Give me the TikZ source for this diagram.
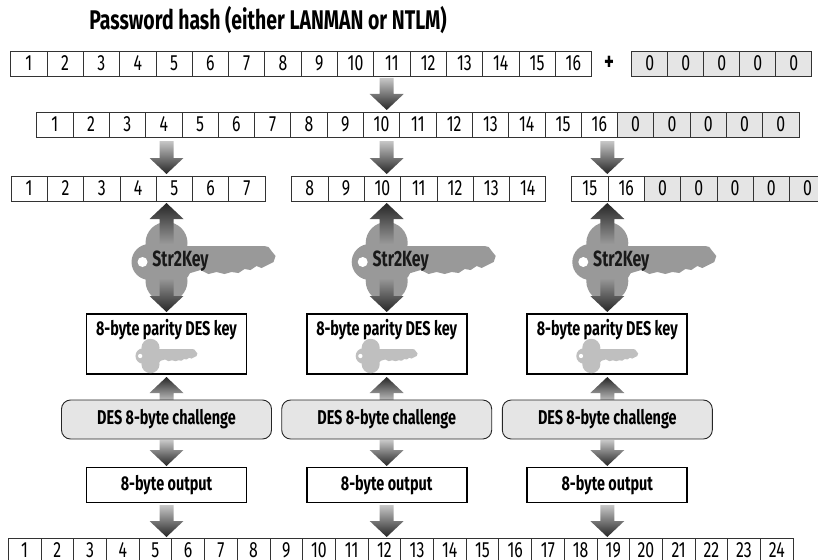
\documentclass[tikz,border=0pt]{standalone}
\usepackage{fontspec}
\setmainfont{Fira Sans}[FakeStretch=0.72]
\newcommand\keyshape[4]{%
 \begin{scope}[shift={(#1,#2)},scale=#3]
  \fill[#4] (0,-19) circle (21) (0,19) circle (21) (-17,0) circle (18) (0,0) circle (26);
  \fill[#4] (14,-16) -- (98,-16) -- (102,-15) -- (105,-11) -- (109,-6) -- (107,0) -- (101,3) -- (95,6) -- (90,4) -- (84,8) -- (78,7) -- (72,11) -- (65,10) -- (58,12) -- (50,10) -- (42,12) -- (34,8) -- (14,14) -- cycle;
  \fill[white] (-24,0) circle (5);
 \end{scope}}
\newcommand\blkarr[4]{%
 \pgfmathsetmacro\hb{#3-16*sign(#3-#2)}%
 \shade[#4] ({#1-7},#2) -- ({#1-7},\hb) -- ({#1-17},\hb) -- (#1,#3) -- ({#1+17},\hb) -- ({#1+7},\hb) -- ({#1+7},#2) -- cycle;}
\begin{document}
\begin{tikzpicture}[x=1pt,y=-1pt,
  cell/.style={draw=black!80, line width=0.8pt, minimum width=36.3pt, minimum height=25pt, inner sep=0pt, font=\fontsize{22}{22}\selectfont},
  zcell/.style={cell, fill=black!10},
  bcell/.style={cell, minimum width=32.7pt},
  thickbox/.style={draw=black, line width=1.8pt, fill=white, inner sep=0pt, minimum width=160pt},
  chal/.style={draw=black!85, line width=0.9pt, fill=black!10, rounded corners=9pt, minimum width=210pt, minimum height=39pt, font=\fontsize{20}{20}\selectfont\bfseries},
  lbl/.style={font=\fontsize{20}{20}\selectfont\bfseries},
  dn/.style={top color=black!22, bottom color=black!85},
  up/.style={top color=black!85, bottom color=black!22},
  kup/.style={top color=black!85, bottom color=black!40},
  kdn/.style={top color=black!40, bottom color=black!85}]
\useasboundingbox (0,0) rectangle (818,559);
\clip (0,0) rectangle (818,559);
% title
\node[font=\fontsize{27}{27}\selectfont\bfseries] (title) at (268,20) {Password hash (either LANMAN or NTLM)};
% row 1
\foreach \i in {1,...,16} \node[cell] (ra\i) at ({10.7+(\i-0.5)*36.3},63.5) {\i};
\node[font=\fontsize{26}{26}\selectfont\bfseries] (plus) at (609,63) {+};
\foreach \i in {1,...,5} \node[zcell] (raz\i) at ({631.7+(\i-0.5)*36},63.5) {0};
\blkarr{386.7}{78}{110}{dn}
% row 2
\foreach \i in {1,...,16} \node[cell] (rb\i) at ({36.7+(\i-0.5)*36.3},124.5) {\i};
\foreach \i in {1,...,5} \node[zcell] (rbz\i) at ({617.5+(\i-0.5)*36.3},124.5) {0};
% row 3
\foreach \i in {1,...,7} \node[cell] (rc\i) at ({11+(\i-0.5)*36.3},188.5) {\i};
\foreach \i in {8,...,14} \node[cell] (rc\i) at ({291.7+(\i-7.5)*36.3},188.5) {\i};
\foreach \i in {15,16} \node[cell] (rc\i) at ({571.7+(\i-14.5)*36.3},188.5) {\i};
\foreach \i in {1,...,5} \node[zcell] (rcz\i) at ({644.3+(\i-0.5)*36.3},188.5) {0};
% columns
\foreach \cx [count=\k] in {166.5,386.7,607.3} {
  \blkarr{\cx}{141}{174}{dn}
  \keyshape{\cx}{262}{1}{black!40}
  \blkarr{\cx}{244}{203}{kup}
  \blkarr{\cx}{278}{312}{kdn}
  \node[font=\fontsize{22}{22}\selectfont\bfseries, text=black!90] (s2k\k) at ({\cx+14},261) {Str2Key};
  \node[thickbox, minimum height=60pt] (des\k) at (\cx,344) {};
  \node[lbl] (deslbl\k) at (\cx,330) {8-byte parity DES key};
  \keyshape{\cx-16}{356}{0.43}{black!25}
  \blkarr{\cx}{402}{377}{up}
  \node[chal] (ch\k) at (\cx,419.5) {DES 8-byte challenge};
  \blkarr{\cx}{440}{466}{dn}
  \node[thickbox, minimum height=35pt, lbl] (out\k) at (\cx,485) {8-byte output};
  \blkarr{\cx}{505}{537}{dn}
}
% bottom row
\foreach \i in {1,...,24} \node[bcell] (rd\i) at ({8.3+(\i-0.5)*32.7},550.5) {\i};
\end{tikzpicture}
\end{document}
